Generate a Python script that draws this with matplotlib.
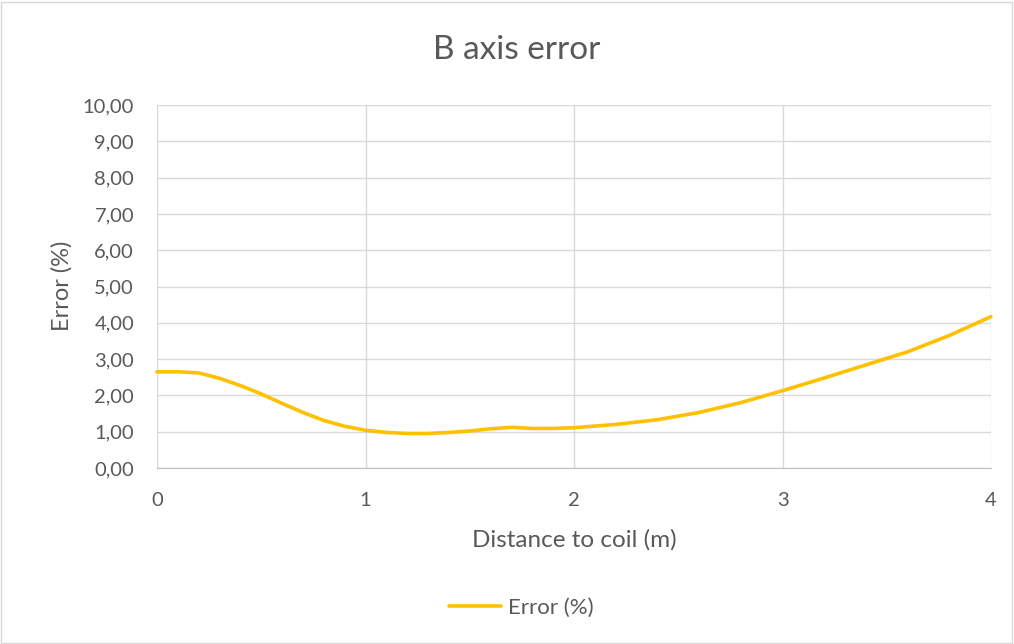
import matplotlib
matplotlib.use("Agg")
import matplotlib.pyplot as plt
from matplotlib.patches import Rectangle
from matplotlib.ticker import FuncFormatter, MultipleLocator

plt.rcParams["font.family"] = ["Lato", "DejaVu Sans"]

TEXT = "#595959"
GRID = "#D9D9D9"
LINE = "#FFC000"

distance = [0.0, 0.1, 0.2, 0.3, 0.4, 0.5, 0.6, 0.7, 0.8, 0.9, 1.0, 1.1, 1.2, 1.3,
            1.4, 1.5, 1.6, 1.7, 1.8, 1.9, 2.0, 2.2, 2.4, 2.6, 2.8, 3.0, 3.2, 3.4,
            3.6, 3.8, 4.0]
error = [2.65, 2.65, 2.62, 2.47, 2.27, 2.04, 1.78, 1.53, 1.31, 1.15, 1.04, 0.98,
         0.95, 0.95, 0.98, 1.02, 1.08, 1.12, 1.09, 1.09, 1.11, 1.20, 1.33, 1.53,
         1.80, 2.13, 2.48, 2.84, 3.20, 3.65, 4.17]

fig = plt.figure(figsize=(10.14, 6.44), dpi=100)
fig.patches.append(Rectangle((0.001, 0.002), 0.997, 0.995, transform=fig.transFigure,
                             fill=False, edgecolor=GRID, linewidth=1))
ax = fig.add_axes([157 / 1014, 1 - 468 / 644, (991 - 157) / 1014, (468 - 105) / 644])

ax.plot(distance, error, color=LINE, linewidth=2.6, label="Error (%)",
        solid_capstyle="round", solid_joinstyle="round", clip_on=False, zorder=3)

ax.set_xlim(0, 4)
ax.set_ylim(0, 10)
ax.xaxis.set_major_locator(MultipleLocator(1))
ax.yaxis.set_major_locator(MultipleLocator(1))
ax.yaxis.set_major_formatter(FuncFormatter(lambda v, p: f"{v:.2f}".replace(".", ",")))
ax.grid(True, color=GRID, linewidth=1)
ax.set_axisbelow(True)
for side in ["top", "right", "left"]:
    ax.spines[side].set_visible(False)
ax.spines["bottom"].set_color("#BFBFBF")
ax.tick_params(length=0, labelsize=14.5, labelcolor=TEXT)
ax.tick_params(axis="x", pad=17)
ax.tick_params(axis="y", pad=16.5)

fig.text(574 / 1014, 1 - 540 / 644, "Distance to coil (m)", ha="center", va="center",
         fontsize=17.5, color=TEXT)
fig.text(62 / 1014, 1 - 286 / 644, "Error (%)", ha="center", va="center",
         rotation=90, fontsize=17, color=TEXT)
fig.text(517 / 1014, 1 - 50 / 644, "B axis error", ha="center", va="center",
         fontsize=24, color=TEXT)

fig.legend(loc="center", bbox_to_anchor=(0.514, 1 - 608 / 644), frameon=False,
           fontsize=16, labelcolor=TEXT, handlelength=2.35, handletextpad=0.3)

fig.savefig("out.png", dpi=100)
